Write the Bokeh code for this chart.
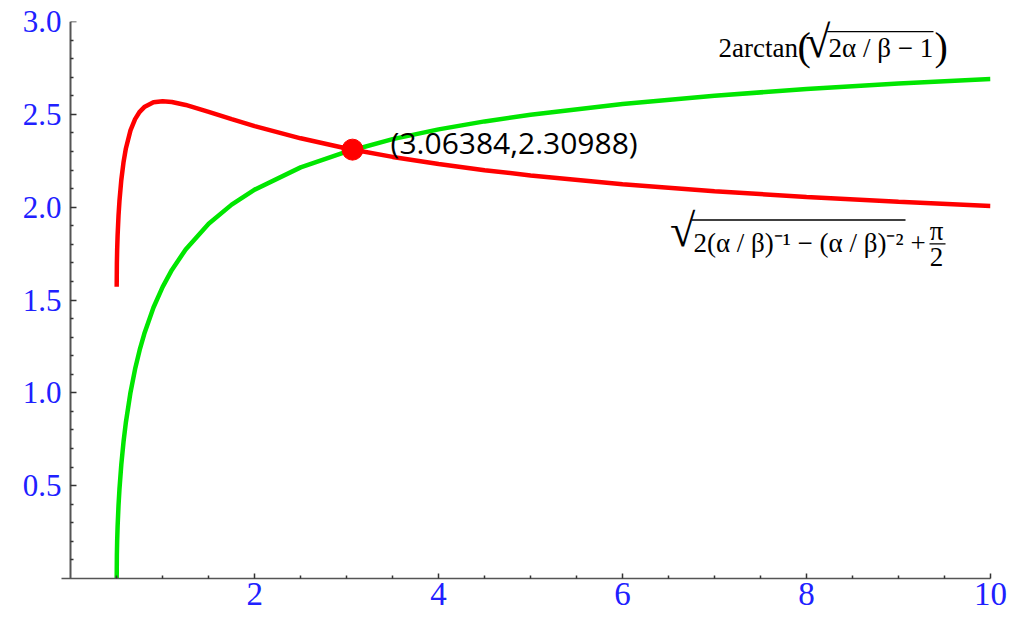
from bokeh.plotting import figure
from bokeh.models import Range1d, FixedTicker, Label, Arrow, PrintfTickFormatter, LinearAxis
from bokeh.embed import file_html
from bokeh.resources import INLINE

# ---- data ----
x_vals = [0.5, 0.502, 0.505, 0.51, 0.52, 0.53, 0.55, 0.575, 0.6, 0.65, 0.7, 0.75, 0.8,
          0.9, 1.0, 1.1, 1.25, 1.5, 1.75, 2.0, 2.5, 3.0, 3.5, 4.0, 4.5, 5.0, 6.0, 7.0,
          8.0, 9.0, 10.0]
green_y = [0.0, 0.1263, 0.1993, 0.2810, 0.3948, 0.4805, 0.6126, 0.7388, 0.8411, 1.0021,
           1.1279, 1.2310, 1.3181, 1.4595, 1.5708, 1.6621, 1.7722, 1.9106, 2.0137, 2.0944,
           2.2143, 2.2986, 2.3665, 2.4189, 2.4619, 2.4981, 2.5559, 2.6003, 2.6362, 2.6657,
           2.6906]
red_y = [1.5708, 1.6968, 1.7688, 1.8481, 1.9554, 2.0330, 2.1458, 2.2444, 2.3162, 2.4135,
         2.4743, 2.5136, 2.5390, 2.5646, 2.5708, 2.5667, 2.5506, 2.5136, 2.4743, 2.4368,
         2.3708, 2.3162, 2.2707, 2.2322, 2.1993, 2.1708, 2.1236, 2.0859, 2.0549, 2.0289,
         2.0067]
point_x = [3.06384]
point_y = [2.30988]
point_text = "(3.06384,2.30988)"

x_major_ticks = [2, 4, 6, 8, 10]
x_minor_ticks = [0.5, 1.0, 1.5, 2.5, 3.0, 3.5, 4.5, 5.0, 5.5, 6.5, 7.0, 7.5, 8.5, 9.0, 9.5]
y_major_ticks = [0.5, 1.0, 1.5, 2.0, 2.5, 3.0]
y_minor_ticks = [0.1, 0.2, 0.3, 0.4, 0.6, 0.7, 0.8, 0.9, 1.1, 1.2, 1.3, 1.4, 1.6, 1.7,
                 1.8, 1.9, 2.1, 2.2, 2.3, 2.4, 2.6, 2.7, 2.8, 2.9]
origin = [0]

AXIS_COLOR = "#555555"
TICK_COLOR = "#333333"
LABEL_BLUE = "#2020ff"
SERIF = "Liberation Serif"

p = figure(width=1008, height=620, x_range=Range1d(-0.1, 10), y_range=Range1d(0, 3),
           output_backend="svg", toolbar_location=None,
           min_border_left=61, min_border_right=18, min_border_top=21,
           min_border_bottom=42)
p.xgrid.visible = False
p.ygrid.visible = False
p.outline_line_color = None
p.background_fill_color = "white"
p.border_fill_color = "white"

# x axis
xa = p.xaxis[0]
xa.ticker = FixedTicker(ticks=x_major_ticks, minor_ticks=x_minor_ticks)
xa.formatter = PrintfTickFormatter(format="%d")
xa.axis_line_color = AXIS_COLOR
xa.axis_line_width = 1.5
xa.major_tick_in = 5
xa.major_tick_out = 0
xa.minor_tick_in = 3
xa.minor_tick_out = 0
xa.major_tick_line_color = TICK_COLOR
xa.minor_tick_line_color = TICK_COLOR
xa.major_tick_line_width = 1.5
xa.minor_tick_line_width = 1.5
xa.major_label_text_color = LABEL_BLUE
xa.major_label_text_font = SERIF
xa.major_label_text_font_size = "33px"
xa.major_label_standoff = 4

# y tick labels (left panel, no line / ticks)
ya = p.yaxis[0]
ya.ticker = FixedTicker(ticks=y_major_ticks, minor_ticks=y_minor_ticks)
ya.formatter = PrintfTickFormatter(format="%.1f")
ya.axis_line_color = None
ya.major_tick_line_color = None
ya.minor_tick_line_color = None
ya.major_tick_out = 0
ya.minor_tick_out = 0
ya.major_label_text_color = LABEL_BLUE
ya.major_label_text_font = SERIF
ya.major_label_text_font_size = "31px"
ya.major_label_standoff = 0


# tick-only axes (no labels) drawn at data location 0
def tick_axis(positions, length, line_color, side, width=1.5):
    ax = LinearAxis(fixed_location=0,
                    ticker=FixedTicker(ticks=[], minor_ticks=positions),
                    axis_line_color=line_color, axis_line_width=2,
                    major_tick_in=0, major_tick_out=0,
                    minor_tick_in=0, minor_tick_out=length,
                    major_tick_line_color=None,
                    minor_tick_line_color=TICK_COLOR if line_color is not None or side == "right" else AXIS_COLOR,
                    minor_tick_line_width=width,
                    major_label_standoff=0)
    p.add_layout(ax, side)


# y axis line at x = 0 with ticks pointing right
tick_axis(y_major_ticks, 6, AXIS_COLOR, "right")
tick_axis(y_minor_ticks, 3, None, "right")
# y axis continuing a little below the x axis (Mathematica style)
tick_axis(origin, 18, None, "below", width=2)

# curves
p.line(x_vals, green_y, line_color="#00e600", line_width=4.5)
p.line(x_vals, red_y, line_color="#ff0000", line_width=4.5)
p.scatter(point_x, point_y, size=21, fill_color="#ff0000", line_color="#ff0000")

p.add_layout(Label(x=3.478, y=2.346, text=point_text, text_font="Open Sans",
                   text_font_size="30px", text_color="black", text_baseline="middle"))


def lab(x, y, text, size="27px", align="left", baseline="alphabetic", style="normal"):
    p.add_layout(Label(x=x, y=y, text=text, text_font=SERIF, text_font_size=size,
                       text_color="black", text_align=align, text_baseline=baseline,
                       text_font_style=style))


def rule(x0, x1, y, width=1.3):
    p.add_layout(Arrow(end=None, x_start=x0, y_start=y, x_end=x1, y_end=y,
                       line_color="black", line_width=width))


# formula 1: 2arctan( sqrt(2a/b - 1) )
lab(7.043, 2.856, "2arctan")
lab(7.902, 2.867, "(", size="40px")
lab(8.260, 2.891, "\u221a", size="46px", align="right")
lab(8.240, 2.856, "2\u03b1 / \u03b2 \u2212 1")
rule(8.225, 9.380, 2.945)
lab(9.391, 2.867, ")", size="40px")

# formula 2: sqrt(2(a/b)^-1 - (a/b)^-2) + pi/2
lab(6.790, 1.874, "\u221a", size="46px", align="right")
lab(6.770, 1.807, "2(\u03b1 / \u03b2)\u207b\u00b9 \u2212 (\u03b1 / \u03b2)\u207b\u00b2")
rule(6.755, 9.076, 1.931)
lab(9.130, 1.807, "+")
lab(9.413, 1.872, "\u03c0", align="center")
rule(9.337, 9.511, 1.802)
lab(9.413, 1.732, "2", align="center")

open("out.html", "w").write(file_html(p, INLINE))
